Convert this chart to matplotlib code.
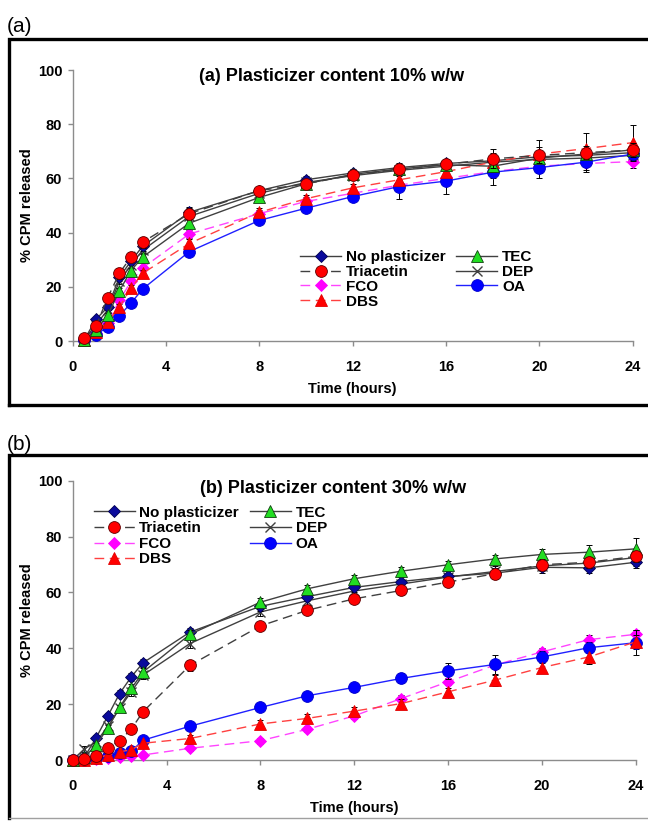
import matplotlib
matplotlib.use("Agg")
import matplotlib.pyplot as plt
from matplotlib.lines import Line2D

plt.rcParams['font.family'] = ['Liberation Sans', 'DejaVu Sans']

# Sampling times (hours)
hours_10 = [0.5, 1, 1.5, 2, 2.5, 3, 5, 8, 10, 12, 14, 16, 18, 20, 22, 24]
hours_30 = [0, 0.5, 1, 1.5, 2, 2.5, 3, 5, 8, 10, 12, 14, 16, 18, 20, 22, 24]

labels = ['No plasticizer', 'Triacetin', 'FCO', 'DBS', 'TEC', 'DEP', 'OA']

# % CPM released, plasticizer content 10% w/w
noplast_10 = [0.5, 8.0, 12.5, 23.5, 29.5, 35.0, 47.5, 55.5, 59.5, 62.0, 64.0, 65.5, 66.5, 68.0, 68.5, 69.5]
triacetin_10 = [1.0, 5.5, 16.0, 25.0, 31.0, 36.5, 47.0, 55.5, 58.0, 61.3, 63.3, 65.2, 67.2, 68.5, 69.5, 70.5]
fco_10 = [0.5, 3.0, 6.5, 15.0, 22.0, 27.0, 39.5, 47.0, 51.5, 54.5, 57.5, 60.0, 62.5, 64.5, 65.5, 66.2]
dbs_10 = [0.5, 3.5, 7.0, 12.5, 19.5, 25.0, 36.0, 47.5, 52.5, 56.5, 59.5, 62.5, 66.0, 69.0, 71.0, 73.2]
tec_10 = [0.5, 4.0, 9.5, 18.5, 26.0, 31.0, 43.5, 53.0, 58.0, 61.5, 63.5, 65.0, 64.5, 67.5, 69.0, 70.5]
dep_10 = [0.5, 6.0, 11.5, 22.0, 28.0, 33.5, 46.0, 54.5, 58.5, 61.0, 63.0, 64.5, 66.0, 67.0, 67.5, 68.5]
oa_10 = [0.3, 2.2, 5.3, 9.3, 14.0, 19.2, 33.0, 44.5, 49.0, 53.3, 57.0, 59.0, 62.3, 64.0, 66.0, 69.0]

# standard deviations, 10% w/w
noplast_10_sd = [0.5, 0.8, 1.0, 1.2, 1.5, 1.8, 2.0, 1.5, 1.5, 1.5, 1.5, 1.5, 2.0, 2.0, 2.0, 2.0]
triacetin_10_sd = [0.5, 1.0, 1.5, 2.0, 2.0, 2.0, 2.0, 1.5, 1.5, 1.5, 1.5, 1.5, 3.5, 3.0, 2.5, 2.5]
fco_10_sd = [0.3, 0.5, 0.8, 1.0, 1.0, 1.2, 1.5, 1.5, 1.5, 1.5, 2.0, 2.0, 2.5, 2.5, 2.5, 2.5]
dbs_10_sd = [0.3, 0.5, 0.8, 1.0, 1.0, 1.2, 1.5, 1.5, 1.5, 1.5, 1.5, 2.0, 3.3, 5.3, 5.9, 6.5]
tec_10_sd = [0.3, 0.5, 0.8, 1.0, 1.0, 1.2, 1.5, 1.5, 1.5, 1.5, 1.5, 1.5, 2.0, 2.0, 2.0, 2.0]
dep_10_sd = [0.3, 0.5, 0.8, 1.0, 1.0, 1.2, 1.5, 1.5, 1.5, 1.5, 1.5, 1.5, 2.0, 2.0, 2.0, 2.0]
oa_10_sd = [0.3, 0.5, 0.8, 1.0, 1.0, 1.2, 1.5, 1.5, 1.5, 1.5, 4.5, 4.7, 4.7, 4.0, 3.7, 2.5]

# % CPM released, plasticizer content 30% w/w
noplast_30 = [0, 1.0, 8.0, 15.8, 23.8, 29.8, 34.8, 45.8, 55.0, 58.5, 61.8, 63.9, 65.7, 66.9, 69.0, 68.8, 70.8]
triacetin_30 = [0, 0.5, 1.4, 4.4, 6.9, 11.1, 17.3, 33.9, 48.0, 53.6, 57.7, 60.7, 63.7, 66.7, 69.9, 70.8, 72.9]
fco_30 = [0, 0, 0.3, 0.6, 1.0, 1.3, 1.8, 4.2, 6.9, 11.0, 15.8, 22.0, 28.0, 34.0, 38.7, 43.1, 45.0]
dbs_30 = [0, 0, 0.8, 1.7, 2.9, 3.7, 6.0, 7.7, 12.9, 14.9, 17.5, 20.2, 24.4, 28.6, 33.1, 36.9, 42.3]
tec_30 = [0, 1.0, 5.4, 11.5, 18.8, 25.6, 31.5, 45.0, 56.5, 61.3, 64.9, 67.6, 69.9, 72.0, 73.6, 74.4, 75.6]
dep_30 = [0, 4.0, 6.5, 12.0, 18.5, 24.5, 30.4, 41.7, 53.0, 57.0, 60.5, 63.0, 65.5, 67.5, 69.5, 70.5, 72.5]
oa_30 = [0, 0, 0.8, 1.4, 2.4, 3.2, 7.1, 12.1, 18.8, 23.0, 26.0, 29.2, 31.9, 34.2, 36.9, 40.2, 42.0]

# standard deviations, 30% w/w
noplast_30_sd = [0.3, 0.5, 0.8, 1.0, 1.2, 1.5, 1.5, 1.5, 1.5, 1.5, 1.5, 1.5, 1.8, 2.0, 2.0, 2.0, 2.0]
triacetin_30_sd = [0.3, 0.5, 0.5, 0.8, 1.0, 1.0, 1.5, 2.0, 1.5, 1.5, 1.5, 1.5, 1.5, 1.5, 2.0, 2.0, 2.0]
fco_30_sd = [0, 0, 0.2, 0.3, 0.3, 0.5, 0.5, 0.8, 1.0, 1.0, 1.2, 1.2, 1.2, 1.5, 1.5, 1.5, 1.5]
dbs_30_sd = [0, 0, 0.3, 0.5, 0.5, 0.5, 1.0, 1.2, 1.5, 1.5, 1.5, 1.5, 1.5, 2.0, 2.0, 2.5, 2.5]
tec_30_sd = [0.3, 0.5, 0.8, 1.0, 1.0, 1.5, 1.5, 1.5, 1.5, 1.5, 1.5, 1.5, 1.5, 1.5, 2.0, 2.5, 4.0]
dep_30_sd = [0.5, 1.0, 1.0, 1.0, 1.2, 1.5, 1.5, 1.5, 1.5, 1.5, 1.5, 1.5, 2.0, 2.0, 2.0, 2.5, 3.0]
oa_30_sd = [0, 0, 0.2, 0.3, 0.3, 0.5, 0.5, 0.8, 1.0, 1.0, 1.5, 1.8, 2.9, 3.3, 2.0, 2.0, 4.5]

# line / marker styles in legend order
styles = [
    dict(color='#404040', ls='-', marker='D', ms=6, mfc='#0A0A9C', mec='#000050', z=3),
    dict(color='#404040', ls=(0, (7, 4)), marker='o', ms=8.5, mfc='#FF0000', mec='#600000', z=7),
    dict(color='#FF44FF', ls=(0, (7, 4)), marker='D', ms=6, mfc='#FF00FF', mec='#FF00FF', z=4),
    dict(color='#FF4040', ls=(0, (7, 4)), marker='^', ms=8.5, mfc='#FF0000', mec='#E00000', z=5),
    dict(color='#404040', ls='-', marker='^', ms=8.5, mfc='#22DD22', mec='#104010', z=6),
    dict(color='#404040', ls='-', marker='x', ms=7, mfc='#404040', mec='#404040', z=2),
    dict(color='#2020FF', ls='-', marker='o', ms=8.5, mfc='#0000FF', mec='#0000CC', z=4.5),
]

W, H = 648, 821
fig = plt.figure(figsize=(W / 100, H / 100), dpi=100)


def add_axes_px(x0, x1, y_top, y_bot):
    return fig.add_axes([x0 / W, 1 - y_bot / H, (x1 - x0) / W, (y_bot - y_top) / H])


def draw_panel(ax, hours, values, sds, title, title_y, leg_xy, leg_spacing):
    for lab, vals, sd, st in zip(labels, values, sds, styles):
        ax.errorbar(hours, vals, yerr=sd, fmt='none', ecolor='black', elinewidth=0.7,
                    capsize=2.2, capthick=0.7, zorder=st['z'] - 0.5, clip_on=False)
        ax.plot(hours, vals, label=lab, color=st['color'], ls=st['ls'], lw=1.0,
                marker=st['marker'], ms=st['ms'], mfc=st['mfc'], mec=st['mec'],
                mew=1.0 if st['marker'] == 'x' else 0.6, zorder=st['z'], clip_on=False)

    ax.set_xlim(0, 24)
    ax.set_ylim(0, 100)
    ax.set_xticks(range(0, 25, 4))
    ax.set_yticks(range(0, 101, 20))
    for side in ('top', 'right'):
        ax.spines[side].set_visible(False)
    for side in ('left', 'bottom'):
        ax.spines[side].set_color('#8C8C8C')
        ax.spines[side].set_linewidth(1.0)
    ax.tick_params(axis='both', direction='out', length=3.5, width=1.0, color='#8C8C8C',
                   labelsize=10.5)
    ax.tick_params(axis='x', pad=10)
    ax.tick_params(axis='y', pad=4)
    for t in ax.get_xticklabels() + ax.get_yticklabels():
        t.set_fontweight('bold')

    ax.set_xlabel('Time (hours)', fontsize=10.5, fontweight='bold', labelpad=6)
    ax.set_ylabel('% CPM released', fontsize=10.5, fontweight='bold', labelpad=3)
    ax.text(0.463, title_y, title, transform=ax.transAxes, ha='center', va='center',
            fontsize=13, fontweight='bold')

    ax.legend(loc='upper left', bbox_to_anchor=leg_xy, ncol=2, frameon=False,
              prop={'weight': 'bold', 'size': 11}, handlelength=2.7,
              handletextpad=0.3, columnspacing=0.7, labelspacing=leg_spacing,
              borderpad=0, borderaxespad=0)


ax_a = add_axes_px(72.7, 632.7, 70, 341)
draw_panel(ax_a, hours_10,
           [noplast_10, triacetin_10, fco_10, dbs_10, tec_10, dep_10, oa_10],
           [noplast_10_sd, triacetin_10_sd, fco_10_sd, dbs_10_sd, tec_10_sd, dep_10_sd, oa_10_sd],
           '(a) Plasticizer content 10% w/w', 0.975, (0.406, 0.335), 0.05)

ax_b = add_axes_px(72.7, 635.7, 480.7, 760)
draw_panel(ax_b, hours_30,
           [noplast_30, triacetin_30, fco_30, dbs_30, tec_30, dep_30, oa_30],
           [noplast_30_sd, triacetin_30_sd, fco_30_sd, dbs_30_sd, tec_30_sd, dep_30_sd, oa_30_sd],
           '(b) Plasticizer content 30% w/w', 0.973, (0.037, 0.91), 0.1)

# panel captions and frames
fig.text(7 / W, 1 - 26 / H, '(a)', fontsize=15, ha='left', va='center')
fig.text(7 / W, 1 - 444 / H, '(b)', fontsize=15, ha='left', va='center')


def frame_line(xs, ys, **kw):
    fig.add_artist(Line2D([x / W for x in xs], [1 - y / H for y in ys],
                         transform=fig.transFigure, **kw))


frame_line([9, 9, 660], [405, 39, 39], color='black', lw=2.4, solid_joinstyle='miter')
frame_line([9, 660], [405, 405], color='black', lw=2.4)
frame_line([9, 9, 660], [818, 455, 455], color='black', lw=2.4, solid_joinstyle='miter')
frame_line([9, 660], [818, 818], color='#A0A0A0', lw=1.0)

fig.savefig('out.png', dpi=100)
